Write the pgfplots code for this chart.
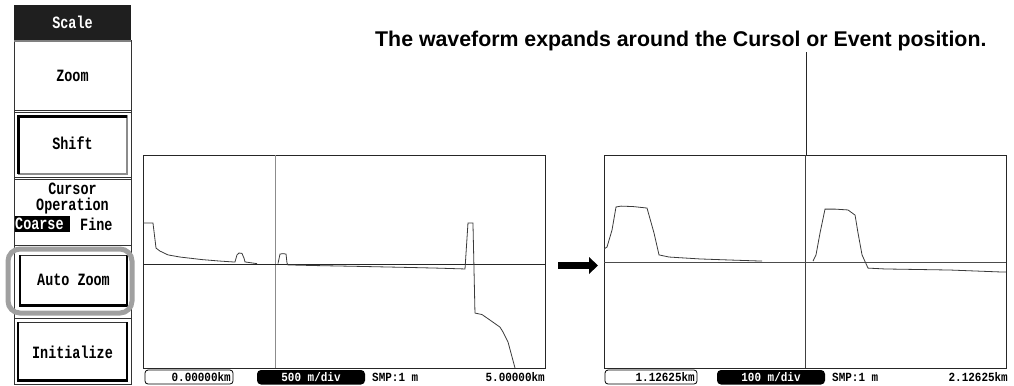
\documentclass[border=0pt]{standalone}
\usepackage{pgfplots}
\pgfplotsset{compat=1.18}
\usepackage{fontspec}
\setmonofont{Liberation Mono}
\newfontfamily\titlefont{Liberation Sans}
\newfontfamily\menufont[FakeStretch=0.78]{Liberation Mono}
\newfontfamily\lcdfont[FakeStretch=0.88]{Liberation Mono}
\newcommand\menu{\menufont\bfseries\fontsize{17.3}{18}\selectfont}
\newcommand\lcd{\lcdfont\bfseries\fontsize{12.5}{13}\selectfont}
\definecolor{hl}{HTML}{A0A0A0}
\definecolor{tr}{HTML}{3A3A3A}
\begin{document}
\begin{tikzpicture}
\begin{scope}[x=1bp,y=-1bp]
\useasboundingbox (0,0) rectangle (1014,385);
% ---------- left menu column ----------
\fill[black!88] (14,5) rectangle (131,40);
\node[text=white,font=\menu] at (72.5,22.5) {Scale};
\draw[black!80,line width=0.8bp] (14,40) -- (14,385);
\draw[black!80,line width=0.8bp] (131,40) -- (131,385);
\draw[black!50,line width=1.2bp] (14,41) -- (131,41);
% Zoom
\draw[black!80,line width=0.8bp] (14,110) -- (131,110);
\node[font=\menu] at (72.5,76) {Zoom};
% Shift
\draw[black!80,line width=0.8bp] (14,112) -- (131,112);
\draw[black!45,line width=1.2bp] (127,115) -- (127,174) -- (18,174);
\draw[black,line width=3bp] (18,174) -- (18,116) -- (127,116);
\node[font=\menu] at (72.5,143) {Shift};
\draw[black!80,line width=0.8bp] (14,177) -- (131,177);
% Cursor operation
\draw[black!80,line width=0.8bp] (14,179) -- (131,179);
\node[font=\menu] at (72.5,189) {Cursor};
\node[font=\menu] at (72.5,206) {Operation};
\fill[black] (15,216) rectangle (70,232);
\node[font=\menu,text=white,anchor=west,inner sep=0pt] at (15,224) {Coarse};
\node[font=\menu,anchor=west,inner sep=0pt] at (80,224) {Fine};
\draw[black!80,line width=0.8bp] (14,245) -- (131,245);
% Auto Zoom
\draw[black!80,line width=0.8bp] (20,255) -- (127,255);
\draw[black,line width=2.5bp] (20,255) -- (20,305);
\draw[black,line width=1.5bp] (127,255) -- (127,305);
\draw[black,line width=3bp] (19,305) -- (128,305);
\node[font=\menu] at (73.5,280) {Auto Zoom};
\draw[hl,line width=5bp,rounded corners=12bp] (8,249) rectangle (132,313);
% Initialize
\draw[black!80,line width=0.8bp] (14,318) -- (131,318);
\draw[black!80,line width=0.8bp] (18,322) -- (127,322);
\draw[black,line width=2.5bp] (18,322) -- (18,381);
\draw[black,line width=2bp] (127,322) -- (127,381);
\draw[black,line width=3bp] (17,380) -- (128,380);
\draw[black!80,line width=0.8bp] (14,384.5) -- (131,384.5);
\node[font=\menu] at (72.5,352) {Initialize};
% ---------- title and leader ----------
\node[anchor=base west,inner sep=0pt,font=\titlefont\bfseries\fontsize{21.4}{22}\selectfont] at (375,46) {The waveform expands around the Cursol or Event position.};
\draw[black!85,line width=0.8bp] (806,52) -- (806,155);
% ---------- arrow ----------
\fill[black] (558,262) rectangle (591,269);
\fill[black] (589,257) -- (598,265.5) -- (589,274) -- cycle;
% ---------- status bars ----------
\draw[black,line width=0.8bp,rounded corners=3bp] (145,370) rectangle (233,384);
\node[font=\lcd,anchor=east,inner sep=0pt] at (231,377) {0.00000km};
\fill[black,rounded corners=4bp] (257,370) rectangle (365,384.5);
\node[font=\lcd,text=white] at (311,377) {500 m/div};
\node[font=\lcd,anchor=west,inner sep=0pt] at (372,377) {SMP:1 m};
\node[font=\lcd,anchor=east,inner sep=0pt] at (545,377) {5.00000km};
\draw[black,line width=0.8bp,rounded corners=3bp] (605,370) rectangle (697,384);
\node[font=\lcd,anchor=east,inner sep=0pt] at (695,377) {1.12625km};
\fill[black,rounded corners=4bp] (717,370) rectangle (825,384.5);
\node[font=\lcd,text=white] at (771,377) {100 m/div};
\node[font=\lcd,anchor=west,inner sep=0pt] at (832,377) {SMP:1 m};
\node[font=\lcd,anchor=east,inner sep=0pt] at (1008,377) {2.12625km};
\end{scope}
% ---------- left plot ----------
\begin{axis}[at={(143bp,-368bp)},anchor=south west,width=402bp,height=213bp,scale only axis,
  xmin=0,xmax=5,ymin=0,ymax=10,xtick=\empty,ytick=\empty,
  axis line style={black!85,line width=0.8bp}]
\addplot[black!45,line width=1bp] coordinates {(1.642,0) (1.642,10)};
\addplot[black!85,line width=0.8bp] coordinates {(0,4.88) (5,4.88)};
\addplot[tr,line width=0.8bp] coordinates {
(0,6.81) (0.124,6.81) (0.162,5.63) (0.211,5.49) (0.311,5.31) (0.460,5.21)
(0.734,5.09) (0.958,5.02) (1.119,4.98) (1.144,4.98) (1.169,5.31) (1.194,5.40)
(1.231,5.38) (1.256,5.16) (1.269,4.98) (1.418,4.90)};
\addplot[tr,line width=0.8bp] coordinates {
(1.679,4.90) (1.704,5.35) (1.741,5.37) (1.779,5.35) (1.791,4.93) (1.803,4.84)
(2.139,4.81) (2.699,4.77) (3.321,4.72) (3.657,4.69) (4.005,4.65)
(4.042,6.81) (4.104,6.81) (4.129,2.58) (4.216,2.51) (4.316,2.25) (4.440,1.92)
(4.478,1.69) (4.540,1.22) (4.627,0)};
\end{axis}
% ---------- right plot ----------
\begin{axis}[at={(604bp,-368bp)},anchor=south west,width=402bp,height=213bp,scale only axis,
  xmin=1.12625,xmax=2.12625,ymin=0,ymax=10,xtick=\empty,ytick=\empty,
  axis line style={black!85,line width=0.8bp}]
\addplot[black!75,line width=0.9bp] coordinates {(1.62625,0) (1.62625,10)};
\addplot[black!70,line width=0.8bp] coordinates {(1.12625,4.98) (2.12625,4.98)};
\addplot[tr,line width=0.8bp] coordinates {
(1.12625,5.59) (1.1337,5.68) (1.1462,6.48) (1.1561,7.56) (1.1685,7.60) (1.1984,7.58)
(1.2332,7.51) (1.2506,6.34) (1.2631,5.31) (1.2880,5.21) (1.3651,5.12) (1.4397,5.07)
(1.5193,5.02)};
\addplot[tr,line width=0.8bp] coordinates {
(1.6462,5.02) (1.6536,5.31) (1.6636,6.34) (1.6760,7.46) (1.7009,7.46) (1.7332,7.42)
(1.7507,7.18) (1.7581,6.34) (1.7681,5.31) (1.7830,4.69) (1.8253,4.65) (1.9870,4.60)
(2.1113,4.51) (2.12625,4.51)};
\end{axis}
\end{tikzpicture}
\end{document}
